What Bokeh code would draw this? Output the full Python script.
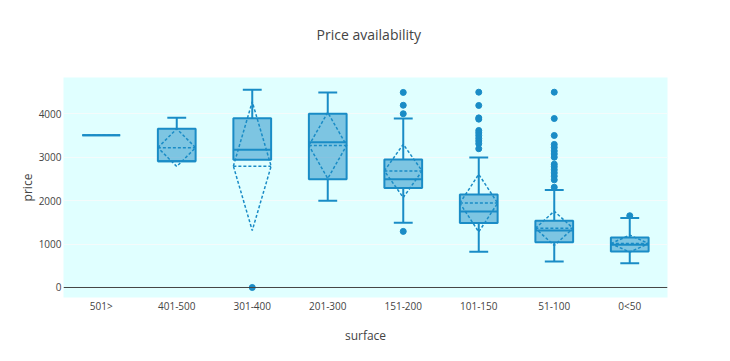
from bokeh.plotting import figure
from bokeh.layouts import column
from bokeh.models import Range1d, FixedTicker, Span, ColumnDataSource
from bokeh.core.properties import value
from bokeh.embed import file_html
from bokeh.resources import INLINE

# ---- data ----
categories = ["501>", "401-500", "301-400", "201-300", "151-200", "101-150", "51-100", "0<50"]
q1 = [3500, 2900, 2935, 2490, 2285, 1480, 1040, 830]
median = [3500, 2900, 3165, 3340, 2490, 1750, 1310, 985]
q3 = [3500, 3650, 3890, 3995, 2945, 2140, 1535, 1150]
lower_fence = [3500, 2900, 2935, 1995, 1490, 820, 600, 555]
upper_fence = [3500, 3900, 4545, 4485, 3885, 2990, 2240, 1600]
means = [3500, 3215, 2790, 3265, 2680, 1940, 1360, 1010]
sds = [0, 433, 1480, 760, 612, 662, 394, 195]

outlier_cat = (["301-400"]
               + ["151-200"] * 4
               + ["101-150"] * 11
               + ["51-100"] * 15
               + ["0<50"])
outlier_price = ([0]
                 + [4485, 4190, 3995, 1290]
                 + [4490, 4185, 3900, 3870, 3610, 3555, 3495, 3430, 3370, 3305, 3190]
                 + [4490, 3885, 3495, 3290, 3220, 3140, 3070, 2995, 2835, 2775, 2705,
                    2635, 2560, 2475, 2305]
                 + [1650])

title_text = "Price availability"

# ---- styling ----
LINE = "#1a8cc6"
BG = "#e0ffff"
TXT = "#444444"
FONT = "Open Sans"
HALF = 0.25   # half box width (category units)
CAP = 0.125   # half whisker cap width

# ---- title strip ----
TW, TH = 722, 60
t = figure(width=TW, height=TH, output_backend="svg", toolbar_location=None,
           x_range=Range1d(0, TW), y_range=Range1d(0, TH),
           x_axis_type=None, y_axis_type=None, min_border=0)
t.outline_line_color = None
t.grid.grid_line_color = None
t.background_fill_color = "white"
t.border_fill_color = "white"
t.text(x=[365], y=[TH - 34], text=[title_text], text_align="center",
       text_baseline="middle", text_font=value(FONT), text_font_size="14px",
       text_color=TXT)

# ---- main chart ----
p = figure(frame_width=604, frame_height=220, output_backend="svg", toolbar_location=None,
           x_range=Range1d(-0.5, len(categories) - 0.5),
           y_range=Range1d(-230, 4828))
p.min_border_left = 63
p.min_border_right = 55
p.min_border_top = 77 - TH
p.min_border_bottom = 56
p.background_fill_color = BG
p.border_fill_color = "white"
p.outline_line_color = None

xs = list(range(len(categories)))
src = ColumnDataSource(dict(
    x=xs, q1=q1, med=median, q3=q3, lo=lower_fence, hi=upper_fence,
    mean=means, sd=sds,
    xl=[x - HALF for x in xs], xr=[x + HALF for x in xs],
))

# boxes
p.vbar(x="x", top="q3", bottom="q1", width=2 * HALF, source=src,
       fill_color=LINE, fill_alpha=0.5, line_color=LINE, line_width=2)
# median
p.segment(x0="xl", x1="xr", y0="med", y1="med", source=src,
          line_color=LINE, line_width=2)
# whiskers
p.segment(x0="x", x1="x", y0="q3", y1="hi", source=src, line_color=LINE, line_width=2)
p.segment(x0="x", x1="x", y0="q1", y1="lo", source=src, line_color=LINE, line_width=2)
# caps (only where whisker exists)
cap_hi = [i for i in xs if upper_fence[i] > q3[i]]
cap_lo = [i for i in xs if lower_fence[i] < q1[i]]
p.segment(x0=[i - CAP for i in cap_hi], x1=[i + CAP for i in cap_hi],
          y0=[upper_fence[i] for i in cap_hi], y1=[upper_fence[i] for i in cap_hi],
          line_color=LINE, line_width=2)
p.segment(x0=[i - CAP for i in cap_lo], x1=[i + CAP for i in cap_lo],
          y0=[lower_fence[i] for i in cap_lo], y1=[lower_fence[i] for i in cap_lo],
          line_color=LINE, line_width=2)
# mean (dashed)
p.segment(x0="xl", x1="xr", y0="mean", y1="mean", source=src,
          line_color=LINE, line_width=1.5, line_dash="3 2")
# sd diamonds (dashed)
dx, dy = [], []
for i in xs:
    if sds[i] > 0:
        dx.append([i - HALF, i, i + HALF, i, i - HALF])
        dy.append([means[i], means[i] + sds[i], means[i], means[i] - sds[i], means[i]])
p.multi_line(xs=dx, ys=dy, line_color=LINE, line_width=1.5, line_dash="3 2")

# outliers
ox = [categories.index(c) for c in outlier_cat]
p.scatter(x=ox, y=outlier_price, size=6, fill_color=LINE, line_color=LINE)

# zero line
p.add_layout(Span(location=0, dimension="width", line_color=TXT, line_width=1))

# axes
p.xaxis.ticker = FixedTicker(ticks=xs)
p.xaxis.major_label_overrides = {i: c for i, c in enumerate(categories)}
p.yaxis.ticker = FixedTicker(ticks=[0, 1000, 2000, 3000, 4000])
for ax in (p.xaxis[0], p.yaxis[0]):
    ax.axis_line_color = None
    ax.major_tick_line_color = None
    ax.minor_tick_line_color = None
    ax.major_tick_out = 0
    ax.major_tick_in = 0
    ax.minor_tick_out = 0
    ax.minor_tick_in = 0
    ax.major_label_text_font = FONT
    ax.major_label_text_font_size = "10px"
    ax.major_label_text_color = TXT
    ax.axis_label_text_font = FONT
    ax.axis_label_text_font_size = "12px"
    ax.axis_label_text_font_style = "normal"
    ax.axis_label_text_color = TXT
p.xaxis.axis_label = "surface"
p.yaxis.axis_label = "price"
p.xaxis.major_label_standoff = 1
p.xaxis.axis_label_standoff = 11
p.yaxis.major_label_standoff = 2
p.yaxis.axis_label_standoff = 0

p.xgrid.grid_line_color = None
p.ygrid.grid_line_color = "#f4fbfb"
p.ygrid.grid_line_width = 1

layout = column(t, p, spacing=0)
open("out.html", "w").write(file_html(layout, INLINE))
